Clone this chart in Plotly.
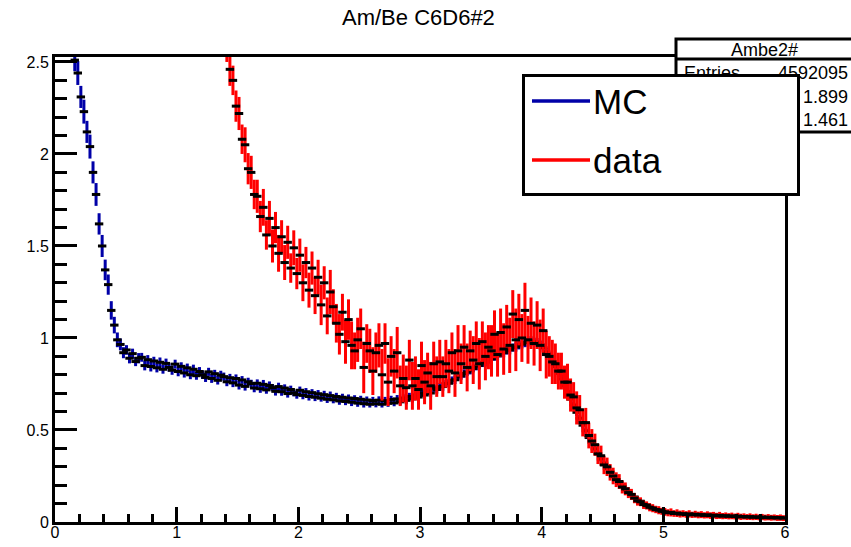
import numpy as np
import plotly.graph_objects as go

# Histogram binning (bin width and first bin centre of each histogram)
BIN = 0.025
MC_START = 0.1375
DATA_START = 1.4125

# Simulated (MC) spectrum: bin contents and statistical errors
mc_values = [
    2.78, 2.51, 2.44, 2.31, 2.23, 2.12, 2.04, 1.90, 1.78, 1.62,
    1.50, 1.37, 1.29, 1.15, 1.07, 0.99, 0.965, 0.92, 0.935, 0.89,
    0.915, 0.872, 0.89, 0.895, 0.85, 0.882, 0.845, 0.875, 0.838, 0.868,
    0.83, 0.862, 0.84, 0.825, 0.858, 0.818, 0.846, 0.81, 0.838, 0.80,
    0.83, 0.795, 0.818, 0.80, 0.786, 0.816, 0.78, 0.806, 0.77, 0.798,
    0.79, 0.762, 0.784, 0.756, 0.78, 0.744, 0.772, 0.737, 0.762, 0.752,
    0.728, 0.754, 0.724, 0.748, 0.718, 0.742, 0.73, 0.71, 0.736, 0.708,
    0.728, 0.698, 0.72, 0.702, 0.692, 0.716, 0.688, 0.708, 0.682, 0.703,
    0.678, 0.697, 0.673, 0.692, 0.667, 0.687, 0.664, 0.682, 0.658, 0.678,
    0.655, 0.674, 0.651, 0.671, 0.646, 0.667, 0.643, 0.663, 0.64, 0.66,
    0.642, 0.662, 0.64, 0.66, 0.645, 0.666, 0.647, 0.669, 0.653, 0.674,
    0.661, 0.683, 0.669, 0.691, 0.679, 0.702, 0.69, 0.714, 0.701, 0.727,
    0.72, 0.735, 0.736, 0.752, 0.754, 0.77, 0.773, 0.789, 0.794, 0.807,
    0.815, 0.826, 0.834, 0.847, 0.851, 0.866, 0.868, 0.884, 0.886, 0.9,
    0.903, 0.917, 0.92, 0.933, 0.935, 0.948, 0.951, 0.962, 0.966, 0.975,
    0.977, 0.985, 0.979, 0.976, 0.962, 0.948, 0.924, 0.902, 0.87, 0.845,
    0.808, 0.778, 0.74, 0.708, 0.668, 0.636, 0.596, 0.564, 0.526, 0.496,
    0.459, 0.432, 0.398, 0.373, 0.342, 0.32, 0.291, 0.272, 0.247, 0.231,
    0.208, 0.195, 0.174, 0.163, 0.145, 0.136, 0.12, 0.113, 0.099, 0.094,
    0.082, 0.079, 0.069, 0.068, 0.059, 0.058, 0.052, 0.053, 0.047, 0.049,
    0.044, 0.046, 0.042, 0.043, 0.04, 0.042, 0.038, 0.04, 0.036, 0.038,
    0.035, 0.036, 0.033, 0.035, 0.031, 0.033, 0.03, 0.031, 0.028, 0.03,
    0.027, 0.028, 0.025, 0.027, 0.024, 0.025, 0.022, 0.024, 0.021, 0.022,
    0.02, 0.021, 0.018, 0.02, 0.017,
]
mc_errors = [
    0.06, 0.06, 0.065, 0.06, 0.065, 0.06, 0.065, 0.06, 0.062, 0.058,
    0.06, 0.056, 0.055, 0.05, 0.045, 0.04, 0.032, 0.03, 0.026, 0.028,
    0.027, 0.025, 0.028, 0.024, 0.026, 0.025, 0.027, 0.023, 0.025, 0.026,
    0.024, 0.026, 0.023, 0.025, 0.024, 0.026, 0.022, 0.025, 0.023, 0.024,
    0.025, 0.022, 0.024, 0.023, 0.025, 0.022, 0.024, 0.021, 0.023, 0.024,
    0.022, 0.024, 0.021, 0.023, 0.022, 0.024, 0.021, 0.023, 0.022, 0.021,
    0.023, 0.021, 0.022, 0.024, 0.021, 0.022, 0.02, 0.023, 0.021, 0.022,
    0.02, 0.022, 0.021, 0.019, 0.022, 0.02, 0.021, 0.02, 0.022, 0.019,
    0.021, 0.02, 0.019, 0.021, 0.02, 0.022, 0.019, 0.02, 0.021, 0.019,
    0.02, 0.019, 0.021, 0.018, 0.02, 0.019, 0.021, 0.019, 0.018, 0.02,
    0.019, 0.021, 0.018, 0.02, 0.019, 0.02, 0.018, 0.021, 0.019, 0.02,
    0.021, 0.019, 0.02, 0.022, 0.02, 0.021, 0.019, 0.022, 0.021, 0.02,
    0.022, 0.021, 0.023, 0.02, 0.022, 0.021, 0.023, 0.022, 0.021, 0.023,
    0.022, 0.024, 0.021, 0.023, 0.022, 0.024, 0.023, 0.022, 0.024, 0.023,
    0.024, 0.022, 0.025, 0.023, 0.024, 0.022, 0.025, 0.024, 0.023, 0.025,
    0.024, 0.025, 0.023, 0.024, 0.025, 0.023, 0.024, 0.022, 0.023, 0.022,
    0.021, 0.022, 0.02, 0.021, 0.02, 0.019, 0.02, 0.018, 0.019, 0.017,
    0.017, 0.016, 0.016, 0.015, 0.014, 0.014, 0.013, 0.013, 0.012, 0.012,
    0.011, 0.011, 0.01, 0.01, 0.009, 0.009, 0.009, 0.008, 0.008, 0.008,
    0.007, 0.007, 0.007, 0.007, 0.006, 0.006, 0.006, 0.006, 0.006, 0.006,
    0.006, 0.005, 0.006, 0.005, 0.005, 0.006, 0.005, 0.005, 0.005, 0.005,
    0.005, 0.005, 0.005, 0.004, 0.005, 0.005, 0.004, 0.005, 0.004, 0.004,
    0.004, 0.004, 0.004, 0.004, 0.004, 0.004, 0.004, 0.004, 0.004, 0.004,
    0.004, 0.004, 0.004, 0.004, 0.004,
]

# Measured Am/Be spectrum: bin contents and statistical errors
data_values = [
    2.58, 2.46, 2.40, 2.26, 2.22, 2.08, 2.05, 1.92, 1.90, 1.78,
    1.77, 1.66, 1.71, 1.56, 1.65, 1.50, 1.60, 1.46, 1.55, 1.41,
    1.52, 1.38, 1.49, 1.35, 1.45, 1.30, 1.41, 1.26, 1.38, 1.23,
    1.33, 1.18, 1.30, 1.12, 1.25, 1.17, 1.08, 1.02, 1.14, 0.98,
    1.10, 0.96, 0.93, 0.99, 1.05, 0.84, 0.97, 0.93, 0.82, 0.92,
    0.96, 0.80, 0.97, 0.76, 0.90, 0.82, 0.92, 0.74, 0.78, 0.73,
    0.88, 0.74, 0.78, 0.72, 0.85, 0.76, 0.81, 0.74, 0.86, 0.79,
    0.87, 0.79, 0.86, 0.82, 0.92, 0.81, 0.93, 0.86, 0.95, 0.84,
    0.93, 0.88, 0.97, 0.86, 0.98, 0.90, 0.95, 0.93, 1.02, 0.91,
    1.03, 0.94, 1.06, 0.96, 1.13, 0.99, 1.10, 1.00, 1.15, 0.99,
    1.08, 0.97, 1.07, 0.96, 1.04, 0.91, 0.90, 0.87, 0.86, 0.82,
    0.82, 0.76, 0.76, 0.69, 0.68, 0.62, 0.61, 0.54, 0.54, 0.47,
    0.44, 0.42, 0.37, 0.36, 0.31, 0.30, 0.27, 0.25, 0.23, 0.22,
    0.19, 0.18, 0.16, 0.15, 0.13, 0.115, 0.11, 0.095, 0.09, 0.08,
    0.075, 0.068, 0.064, 0.058, 0.055, 0.05, 0.052, 0.046, 0.048, 0.043,
    0.045, 0.041, 0.044, 0.039, 0.042, 0.038, 0.04, 0.036, 0.039, 0.035,
    0.037, 0.033, 0.036, 0.032, 0.034, 0.031, 0.033, 0.03, 0.032, 0.028,
    0.03, 0.027, 0.029, 0.026, 0.028, 0.025, 0.027, 0.024, 0.026, 0.023,
    0.025, 0.022, 0.024, 0.021,
]
data_errors = [
    0.08, 0.09, 0.08, 0.085, 0.09, 0.08, 0.095, 0.085, 0.09, 0.08,
    0.09, 0.085, 0.1, 0.08, 0.095, 0.09, 0.085, 0.1, 0.09, 0.095,
    0.09, 0.08, 0.095, 0.085, 0.09, 0.1, 0.085, 0.095, 0.09, 0.1,
    0.095, 0.11, 0.09, 0.1, 0.12, 0.095, 0.105, 0.11, 0.1, 0.12,
    0.11, 0.13, 0.1, 0.12, 0.11, 0.14, 0.105, 0.12, 0.13, 0.11,
    0.12, 0.14, 0.11, 0.13, 0.11, 0.12, 0.14, 0.11, 0.13, 0.12,
    0.11, 0.13, 0.12, 0.11, 0.13, 0.12, 0.11, 0.13, 0.12, 0.11,
    0.12, 0.11, 0.13, 0.12, 0.11, 0.13, 0.14, 0.11, 0.12, 0.13,
    0.11, 0.13, 0.12, 0.14, 0.11, 0.13, 0.12, 0.14, 0.13, 0.12,
    0.13, 0.14, 0.12, 0.15, 0.13, 0.17, 0.14, 0.13, 0.15, 0.13,
    0.14, 0.12, 0.13, 0.14, 0.12, 0.13, 0.11, 0.12, 0.11, 0.1,
    0.1, 0.09, 0.1, 0.09, 0.08, 0.09, 0.08, 0.075, 0.08, 0.07,
    0.065, 0.06, 0.055, 0.055, 0.05, 0.05, 0.045, 0.045, 0.04, 0.04,
    0.035, 0.035, 0.03, 0.03, 0.028, 0.026, 0.024, 0.024, 0.022, 0.022,
    0.022, 0.02, 0.022, 0.019, 0.021, 0.019, 0.022, 0.018, 0.021, 0.019,
    0.019, 0.018, 0.02, 0.017, 0.019, 0.018, 0.019, 0.017, 0.019, 0.018,
    0.018, 0.017, 0.019, 0.017, 0.018, 0.017, 0.018, 0.016, 0.018, 0.017,
    0.017, 0.016, 0.018, 0.016, 0.017, 0.016, 0.017, 0.016, 0.017, 0.016,
    0.016, 0.016, 0.017, 0.016,
]

TITLE = "Am/Be C6D6#2"
STATS_NAME = "Ambe2#"
STATS_ROWS = [("Entries", "4592095"), ("Mean", "1.899"), ("RMS", "1.461")]
SERIES_NAMES = ["MC", "data"]
MC_COLOR = "#0000a8"
DATA_COLOR = "#ff0000"

FONT = "Liberation Sans, Arial, Helvetica, sans-serif"

mc_x = MC_START + BIN * np.arange(len(mc_values))
data_x = DATA_START + BIN * np.arange(len(data_values))


def hist_trace(x, y, err, color, name):
    # ROOT-style "E" drawing: coloured vertical error bar, black bin marker
    return go.Scatter(
        x=x, y=y, name=name, mode="markers", showlegend=False,
        marker=dict(symbol="line-ew", size=6, color="black",
                    line=dict(color="black", width=3)),
        error_y=dict(type="data", array=err, visible=True,
                     color=color, thickness=3, width=0),
        hoverinfo="x+y",
    )


fig = go.Figure()
fig.add_trace(hist_trace(mc_x, mc_values, mc_errors, MC_COLOR, SERIES_NAMES[0]))
fig.add_trace(hist_trace(data_x, data_values, data_errors, DATA_COLOR, SERIES_NAMES[1]))

# Frame of the pad in pixels
L, T, R, B = 55, 57, 785, 522
W, H = 851, 547


def fx(p):
    return (p - L) / (R - L)


def fy(p):
    return (B - p) / (B - T)


fig.update_layout(
    width=W, height=H,
    margin=dict(l=L, r=W - R, t=T, b=H - B, pad=0),
    paper_bgcolor="white", plot_bgcolor="white",
    showlegend=False,
    font=dict(family=FONT, color="black"),
)

axis_common = dict(
    ticks="inside", tickwidth=3, tickcolor="black",
    showline=True, linewidth=3, linecolor="black", mirror=True,
    showgrid=False, zeroline=False, automargin=False,
    tickfont=dict(family=FONT, size=16, color="black"),
)
fig.update_xaxes(
    range=[0, 6], tick0=0, dtick=1, ticklen=15, ticklabelstandoff=-6,
    minor=dict(tick0=0, dtick=0.2, ticks="inside", ticklen=8,
               tickwidth=3, tickcolor="black", showgrid=False),
    **axis_common,
)
fig.update_yaxes(
    range=[0, 2.527], tick0=0, dtick=0.5, ticklen=22,
    minor=dict(tick0=0, dtick=0.1, ticks="inside", ticklen=12,
               tickwidth=3, tickcolor="black", showgrid=False),
    **axis_common,
)

shapes = [
    # statistics box
    dict(type="rect", xref="paper", yref="paper",
         x0=fx(676), x1=fx(900), y0=fy(132), y1=fy(39),
         line=dict(color="black", width=3), fillcolor="white", layer="above"),
    dict(type="line", xref="paper", yref="paper",
         x0=fx(676), x1=fx(900), y0=fy(59), y1=fy(59),
         line=dict(color="black", width=3), layer="above"),
]

annotations = [
    dict(text=TITLE, xref="paper", yref="paper", x=fx(418), y=fy(17),
         xanchor="center", yanchor="middle", showarrow=False,
         font=dict(family=FONT, size=22, color="black")),
    dict(text=STATS_NAME, xref="paper", yref="paper", x=fx(764), y=fy(50),
         xanchor="center", yanchor="middle", showarrow=False,
         font=dict(family=FONT, size=18, color="black")),
]
row_y = [73, 97, 120]
for (label, val), yy in zip(STATS_ROWS, row_y):
    annotations.append(dict(text=label, xref="paper", yref="paper", x=fx(682), y=fy(yy),
                            xanchor="left", yanchor="middle", showarrow=False,
                            font=dict(family=FONT, size=18, color="black")))
    annotations.append(dict(text=val, xref="paper", yref="paper", x=fx(850), y=fy(yy),
                            xanchor="right", yanchor="middle", showarrow=False,
                            font=dict(family=FONT, size=18, color="black")))

# legend box drawn on top of the statistics box
annotations.append(dict(
    text=" ", xref="paper", yref="paper", x=fx(522), y=fy(74),
    xanchor="left", yanchor="top", showarrow=False,
    width=272, height=116, borderwidth=3, borderpad=0,
    bgcolor="white", bordercolor="black",
))
legend_rows = [(SERIES_NAMES[0], MC_COLOR, 101), (SERIES_NAMES[1], DATA_COLOR, 160)]
for name, color, yy in legend_rows:
    annotations.append(dict(
        text=" ", xref="paper", yref="paper", x=fx(590), y=fy(yy),
        ax=-60, ay=0, showarrow=True, arrowhead=0, arrowwidth=3.5,
        arrowcolor=color, font=dict(size=2),
    ))
    annotations.append(dict(
        text=name, xref="paper", yref="paper", x=fx(591), y=fy(yy),
        xanchor="left", yanchor="middle", showarrow=False,
        font=dict(family=FONT, size=35, color="black"),
    ))

fig.update_layout(shapes=shapes, annotations=annotations)

fig.write_html("out.html")
